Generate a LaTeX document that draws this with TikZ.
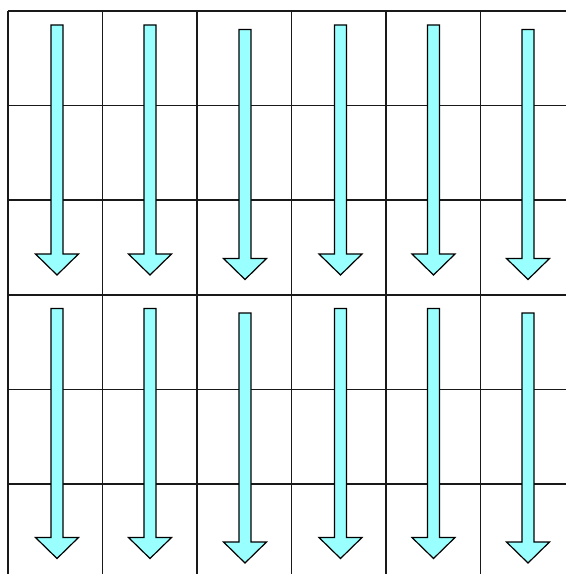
\documentclass[tikz,border=0pt]{standalone}
\definecolor{flowcyan}{HTML}{99FFFF}
\tikzset{
  gridline/.style={
    black!90,
    line width=1.1pt
  },
  flowarrow/.style={
    draw=black,
    fill=flowcyan,
    line width=0.9pt,
    line join=miter
  }
}

\begin{document}
\begin{tikzpicture}[x=0.75pt,y=-0.75pt]
\useasboundingbox (0,0) rectangle (566,574);
\fill[white] (0,0) rectangle (566,574);
% grid
\foreach \i in {0,...,5} {
  \draw[gridline] ({8+94.5*\i},11) -- ({8+94.5*\i},574);
  \draw[gridline] (8,{11+94.6*\i}) -- (566,{11+94.6*\i});
}
% arrows, two rows of six
\foreach \rowoff in {0,283.5} {
\foreach \cx/\dy in {57/0,150/0,245/4.5,340.5/0,433.5/0,528/4.5} {
  \draw[flowarrow] (\cx-6,25+\dy+\rowoff) -- (\cx+6,25+\dy+\rowoff)
    -- (\cx+6,254+\dy+\rowoff) -- (\cx+21.5,254+\dy+\rowoff)
    -- (\cx,275+\dy+\rowoff) -- (\cx-21.5,254+\dy+\rowoff)
    -- (\cx-6,254+\dy+\rowoff) -- cycle;
}
}
\end{tikzpicture}
\end{document}
